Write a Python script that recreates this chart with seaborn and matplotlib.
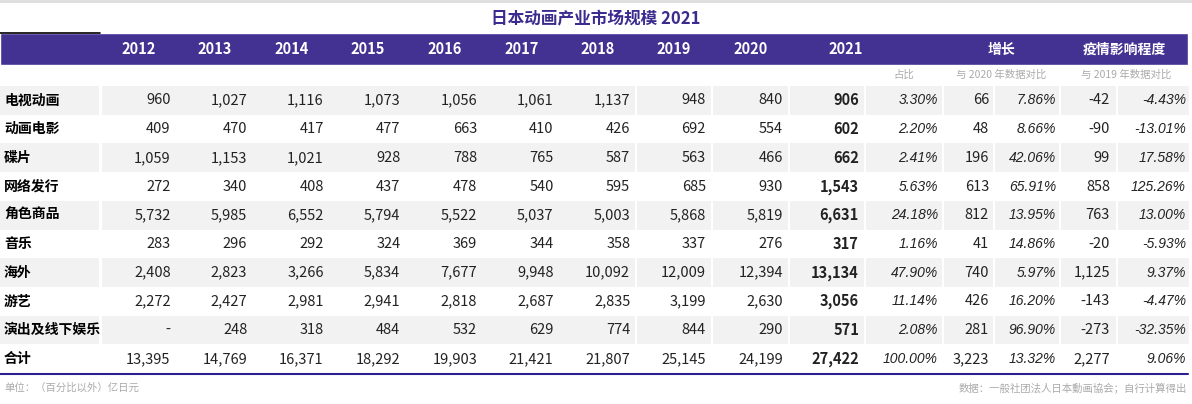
import matplotlib
matplotlib.use("Agg")
import matplotlib.pyplot as plt
import seaborn as sns

sns.set_theme(style="white")
plt.rcParams['font.family'] = ['Noto Sans CJK SC', 'DejaVu Sans']

title = "日本动画产业市场规模 2021"
years = [2012, 2013, 2014, 2015, 2016, 2017, 2018, 2019, 2020, 2021]
categories = ['电视动画', '动画电影', '碟片', '网络发行', '角色商品',
              '音乐', '海外', '游艺', '演出及线下娱乐', '合计']

tv_anime = [960, 1027, 1116, 1073, 1056, 1061, 1137, 948, 840, 906]
anime_film = [409, 470, 417, 477, 663, 410, 426, 692, 554, 602]
discs = [1059, 1153, 1021, 928, 788, 765, 587, 563, 466, 662]
online = [272, 340, 408, 437, 478, 540, 595, 685, 930, 1543]
merch = [5732, 5985, 6552, 5794, 5522, 5037, 5003, 5868, 5819, 6631]
music = [283, 296, 292, 324, 369, 344, 358, 337, 276, 317]
overseas = [2408, 2823, 3266, 5834, 7677, 9948, 10092, 12009, 12394, 13134]
pachinko = [2272, 2427, 2981, 2941, 2818, 2687, 2835, 3199, 2630, 3056]
live = [None, 248, 318, 484, 532, 629, 774, 844, 290, 571]
total = [13395, 14769, 16371, 18292, 19903, 21421, 21807, 25145, 24199, 27422]

share_pct = [3.30, 2.20, 2.41, 5.63, 24.18, 1.16, 47.90, 11.14, 2.08, 100.00]
growth = [66, 48, 196, 613, 812, 41, 740, 426, 281, 3223]
growth_pct = [7.86, 8.66, 42.06, 65.91, 13.95, 14.86, 5.97, 16.20, 96.90, 13.32]
covid = [-42, -90, 99, 858, 763, -20, 1125, -143, -273, 2277]
covid_pct = [-4.43, -13.01, 17.58, 125.26, 13.00, -5.93, 9.37, -4.47, -32.35, 9.06]

rows = [tv_anime, anime_film, discs, online, merch, music, overseas, pachinko, live, total]

# ---- layout (pixel coordinates) ----
purple = '#433292'
gray_bg = '#f2f2f2'
year_edges = [100, 176.6, 253.2, 329.8, 406.4, 483, 559.6, 636.2, 712, 789, 865]
extra_edges = [865, 943, 994, 1060, 1117, 1190]
row_top0, row_h = 86, 28.72

fig = plt.figure(figsize=(11.92, 4.04), dpi=100)
ax = fig.add_axes([0, 0, 1, 1])
ax.set_xlim(0, 1192)
ax.set_ylim(404, 0)
ax.axis('off')

# top border + title
ax.plot([0, 1192], [1, 1], color='#dddddd', lw=2)
ax.text(596, 19, title, ha='center', va='center', fontsize=12,
        fontweight='bold', color='#3c2b8e')

# header band
ax.barh(33, 1188, height=32, left=0, align='edge', color=purple)
ax.plot([0, 100], [33, 33], color='black', lw=1.2)
for i, yr in enumerate(years[:-1]):
    cx = (year_edges[i] + year_edges[i + 1]) / 2
    ax.text(cx, 49.5, str(yr), ha='center', va='center', color='white',
            fontsize=10.5, fontweight='bold')
ax.text(846, 49.5, str(years[-1]), ha='center', va='center', color='white',
        fontsize=10.5, fontweight='bold')
ax.text(1001, 49.5, '增长', ha='center', va='center', color='white',
        fontsize=10, fontweight='bold')
ax.text(1124, 49.5, '疫情影响程度', ha='center', va='center', color='white',
        fontsize=10, fontweight='bold')

# sub header
sub_kw = dict(va='center', color='#aaaaaa', fontsize=7.5)
ax.text(904, 75, '占比', ha='center', **sub_kw)
ax.text(1001, 75, '与 2020 年数据对比', ha='center', **sub_kw)
ax.text(1126, 75, '与 2019 年数据对比', ha='center', **sub_kw)

# cell backgrounds
cell_spans = [(0, 99), (102, 635)]
edges = year_edges[7:] + extra_edges[1:]
for a, b in zip(edges[:-1], edges[1:]):
    cell_spans.append((a + 1.2, b - 1.2))
for r in range(len(categories)):
    if r % 2 == 0 and r < len(categories) - 1:
        top = row_top0 + r * row_h
        for a, b in cell_spans:
            ax.barh(top, b - a, height=row_h, left=a, align='edge',
                    color=gray_bg, lw=0)

# cell texts
num_kw = dict(ha='right', va='center', fontsize=10.5, color='#222222')
pct_kw = dict(ha='right', va='center', fontsize=10, color='#222222',
              family=['Liberation Sans', 'DejaVu Sans'], style='italic')
for r, cat in enumerate(categories):
    cy = row_top0 + r * row_h + row_h / 2
    ax.text(4, cy, cat, ha='left', va='center', fontsize=10,
            fontweight='bold', color='black')
    for c, v in enumerate(rows[r]):
        s = '-' if v is None else f'{v:,}'
        right = year_edges[c + 1] - 6
        if c == len(years) - 1:
            ax.text(right, cy, s, fontweight='bold', **num_kw)
        else:
            ax.text(right, cy, s, **num_kw)
    ax.text(extra_edges[1] - 5, cy, f'{share_pct[r]:.2f}%', **pct_kw)
    ax.text(extra_edges[2] - 5, cy, f'{growth[r]:,}', **num_kw)
    ax.text(extra_edges[3] - 4, cy, f'{growth_pct[r]:.2f}%', **pct_kw)
    ax.text(extra_edges[4] - 7, cy, f'{covid[r]:,}', **num_kw)
    ax.text(extra_edges[5] - 4, cy, f'{covid_pct[r]:.2f}%', **pct_kw)

# bottom rule and footnotes
ax.plot([0, 1188], [374, 374], color='#2a2090', lw=1.5)
ax.text(4, 388, '单位：（百分比以外）亿日元', ha='left', va='center',
        fontsize=7.5, color='#aaaaaa')
ax.text(1187, 388, '数据：一般社团法人日本動画協会；自行计算得出', ha='right',
        va='center', fontsize=7.5, color='#aaaaaa')

fig.savefig('out.png', dpi=100)
